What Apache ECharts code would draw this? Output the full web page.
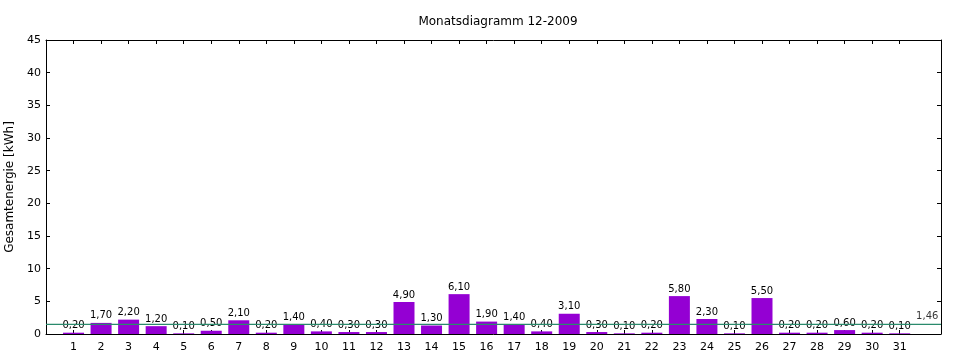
<!DOCTYPE html>
<html><head><meta charset="utf-8">
<script src="https://cdn.jsdelivr.net/npm/echarts@6/dist/echarts.min.js"></script>
<style>html,body{margin:0;padding:0;background:#fff}#c{width:960px;height:360px}</style>
</head><body><div id="c"></div>
<script>
const days = [1,2,3,4,5,6,7,8,9,10,11,12,13,14,15,16,17,18,19,20,21,22,23,24,25,26,27,28,29,30,31];
const energy = [0.2,1.7,2.2,1.2,0.1,0.5,2.1,0.2,1.4,0.4,0.3,0.3,4.9,1.3,6.1,1.9,1.4,0.4,3.1,0.3,0.1,0.2,5.8,2.3,0.1,5.5,0.2,0.2,0.6,0.2,0.1];
const average = 1.46;
const averageLabelPos = 32;
const titleText = 'Monatsdiagramm 12-2009';
const yName = 'Gesamtenergie [kWh]';

const FONT = 'DejaVu Sans';
const fmt = v => v.toFixed(2).replace('.', ',');
const chart = echarts.init(document.getElementById('c'), null, {renderer:'canvas'});
const axisLineStyle = {color:'#000', width:1};
chart.setOption({
  animation:false,
  title:{text:titleText, left:493, textAlign:'center', top:11, textStyle:{fontFamily:FONT, fontSize:12, fontWeight:'normal', color:'#000'}},
  grid:{left:46, right:19, top:40, bottom:26, containLabel:false, outerBoundsMode:'none'},
  xAxis:[{
    type:'value', min:0, max:32.5, position:'bottom',
    axisLine:{onZero:false, lineStyle:axisLineStyle},
    axisTick:{inside:true, length:4, customValues:days, lineStyle:axisLineStyle},
    axisLabel:{customValues:days, fontFamily:FONT, fontSize:11, color:'#000', margin:8},
    splitLine:{show:false}
  },{
    type:'value', min:0, max:32.5, position:'top',
    axisLine:{onZero:false, lineStyle:axisLineStyle},
    axisTick:{inside:true, length:4, customValues:days, lineStyle:axisLineStyle},
    axisLabel:{show:false}, splitLine:{show:false}
  }],
  yAxis:[{
    type:'value', min:0, max:45, interval:5, position:'left',
    name:yName, nameLocation:'middle', nameGap:30, nameRotate:90,
    nameTextStyle:{fontFamily:FONT, fontSize:12, color:'#000'},
    axisLine:{show:true, onZero:false, lineStyle:axisLineStyle},
    axisTick:{show:true, inside:true, length:4, lineStyle:axisLineStyle},
    axisLabel:{fontFamily:FONT, fontSize:11, color:'#000', margin:5},
    splitLine:{show:false}
  },{
    type:'value', min:0, max:45, interval:5, position:'right',
    axisLine:{show:true, onZero:false, lineStyle:axisLineStyle},
    axisTick:{show:true, inside:true, length:4, lineStyle:axisLineStyle},
    axisLabel:{show:false}, splitLine:{show:false}
  }],
  series:[{
    type:'bar', xAxisIndex:0, yAxisIndex:0, barWidth:21,
    data: days.map((d,i)=>[d, energy[i]]),
    itemStyle:{color:'#9400D3'},
    label:{show:true, position:'top', distance:2, fontFamily:FONT, fontSize:10, color:'#000',
      formatter:p=>fmt(p.value[1])}
  },{
    type:'line', xAxisIndex:0, yAxisIndex:0, symbol:'none', silent:true,
    data:[[0,average],[32.5,average]],
    lineStyle:{color:'#2a8a6c', width:1.2}, z:5
  },{
    type:'scatter', xAxisIndex:0, yAxisIndex:0, symbolSize:0,
    data:[[averageLabelPos, average]],
    label:{show:true, position:'top', distance:3, fontFamily:FONT, fontSize:10, color:'#000',
      formatter:p=>fmt(p.value[1])}
  }]
});
</script></body></html>
